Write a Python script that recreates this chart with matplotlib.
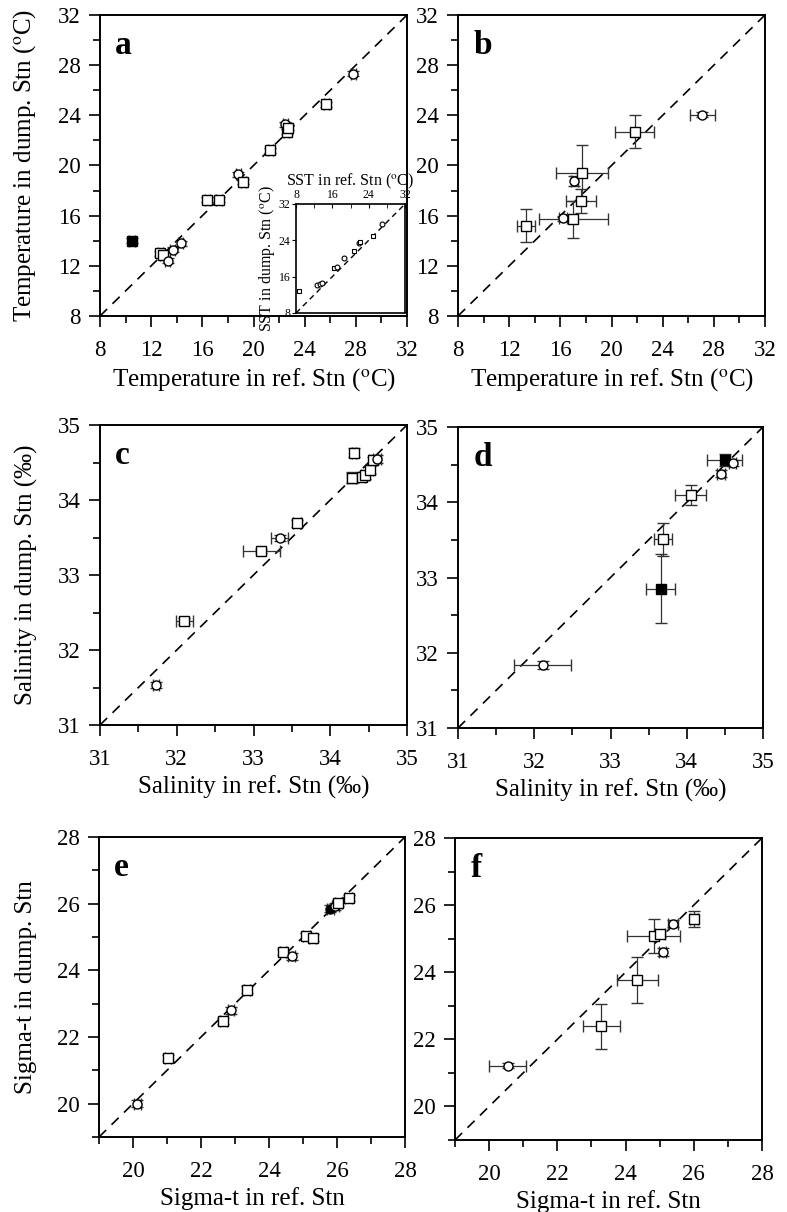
import matplotlib
matplotlib.use('Agg')
import matplotlib.pyplot as plt
from matplotlib.ticker import MultipleLocator, FuncFormatter
import numpy as np

plt.rcParams['font.family'] = ['Liberation Serif', 'DejaVu Serif']
plt.rcParams['mathtext.fontset'] = 'stix'

# ---------------- data ----------------
# Panel a: temperature
a_x = [10.5, 12.7, 12.9, 13.3, 13.7, 14.3, 16.4, 17.3, 18.8, 19.2, 21.3, 22.5, 22.6, 22.7, 25.7, 27.8]
a_y = [14.0, 13.0, 12.9, 12.4, 13.3, 13.8, 17.25, 17.25, 19.3, 18.7, 21.2, 23.3, 22.7, 23.0, 24.9, 27.3]
a_xerr = [0.2] * 16
a_yerr = [0.2] * 16
a_mk = ['s', 's', 's', 'o', 'o', 'o', 's', 's', 'o', 's', 's', 'o', 's', 's', 's', 'o']
a_fill = [True] + [False] * 15

# Inset of panel a: SST
i_x = [8.6, 12.7, 13.2, 13.7, 16.4, 17.0, 18.5, 20.7, 21.8, 22.2, 24.9, 27.0]
i_y = [12.9, 14.2, 14.4, 14.6, 17.9, 18.2, 20.2, 21.7, 23.4, 23.7, 25.0, 27.5]
i_mk = ['s', 'o', 'o', 'o', 's', 'o', 'o', 's', 'o', 's', 's', 'o']

# Panel b: temperature
b_x = [13.3, 16.2, 17.0, 17.6, 17.1, 17.7, 21.8, 27.1]
b_y = [15.2, 15.8, 15.7, 17.2, 18.8, 19.4, 22.7, 24.05]
b_xerr = [0.7, 0.3, 2.7, 1.15, 0.3, 2.05, 1.5, 1.0]
b_yerr = [1.3, 0.2, 1.5, 0.95, 0.4, 2.2, 1.3, 0.2]
b_mk = ['s', 'o', 's', 's', 'o', 's', 's', 'o']
b_fill = [False] * 8

# Panel c: salinity
c_x = [31.73, 32.10, 33.10, 33.34, 33.57, 34.28, 34.31, 34.41, 34.45, 34.52, 34.56, 34.61]
c_y = [31.53, 32.39, 33.32, 33.50, 33.69, 34.30, 34.63, 34.31, 34.33, 34.40, 34.53, 34.55]
c_xerr = [0.04, 0.11, 0.24, 0.11, 0.05, 0.06, 0.03, 0.04, 0.05, 0.04, 0.05, 0.05]
c_yerr = [0.04, 0.04, 0.03, 0.04, 0.05, 0.07, 0.06, 0.04, 0.05, 0.05, 0.05, 0.05]
c_mk = ['o', 's', 's', 'o', 's', 's', 's', 's', 's', 's', 's', 'o']
c_fill = [False] * 12

# Panel d: salinity
d_x = [32.11, 33.66, 33.69, 34.05, 34.45, 34.50, 34.60]
d_y = [31.84, 32.85, 33.51, 34.10, 34.38, 34.56, 34.52]
d_xerr = [0.37, 0.19, 0.12, 0.20, 0.05, 0.23, 0.05]
d_yerr = [0.05, 0.46, 0.22, 0.13, 0.05, 0.08, 0.04]
d_mk = ['o', 's', 's', 's', 'o', 's', 'o']
d_fill = [False, True, False, False, False, True, False]

# Panel e: sigma-t
e_x = [20.13, 21.03, 22.65, 22.88, 23.35, 24.41, 24.67, 25.10, 25.29, 25.80, 25.95, 26.04, 26.34]
e_y = [20.00, 21.37, 22.48, 22.80, 23.42, 24.55, 24.42, 25.02, 24.98, 25.85, 25.92, 26.02, 26.17]
e_xerr = [0.1] * 13
e_yerr = [0.1] * 13
e_mk = ['o', 's', 's', 'o', 's', 's', 'o', 's', 's', 'o', 'o', 's', 's']
e_fill = [False] * 9 + [True] + [False] * 3

# Panel f: sigma-t
f_x = [20.54, 23.29, 24.35, 24.82, 25.02, 25.09, 25.40, 26.00]
f_y = [21.22, 22.39, 23.77, 25.08, 25.14, 24.60, 25.45, 25.58]
f_xerr = [0.54, 0.54, 0.61, 0.77, 0.15, 0.10, 0.15, 0.12]
f_yerr = [0.08, 0.67, 0.68, 0.50, 0.10, 0.12, 0.10, 0.23]
f_mk = ['o', 's', 's', 's', 's', 'o', 'o', 's']
f_fill = [False] * 8

# ---------------- figure ----------------
W, H = 787, 1212
fig = plt.figure(figsize=(W / 100, H / 100), dpi=100)


def px_axes(left, top, right, bottom):
    return fig.add_axes([left / W, 1 - bottom / H, (right - left) / W, (bottom - top) / H])


deg = r'($^{\rm o}$C)'
TICK_FS = 16.5
LAB_FS = 18


def style(ax, lo, hi, major, minor, letter):
    ax.set_xlim(lo, hi)
    ax.set_ylim(lo, hi)
    fmt = FuncFormatter(lambda v, p: '%g' % v)
    for axis in (ax.xaxis, ax.yaxis):
        axis.set_major_locator(MultipleLocator(major))
        axis.set_minor_locator(MultipleLocator(minor))
        axis.set_major_formatter(fmt)
    ax.tick_params(which='major', direction='out', length=8, width=1.2, labelsize=TICK_FS,
                   pad=6, top=False, right=False)
    ax.tick_params(axis='x', which='major', pad=9)
    ax.tick_params(which='minor', direction='out', length=5, width=1.2, top=False, right=False)
    for s in ax.spines.values():
        s.set_linewidth(1.4)
    ax.plot([lo, hi], [lo, hi], ls=(0, (6, 4.5)), color='black', lw=1.2, zorder=1)
    ax.text(0.05, 0.90, letter, transform=ax.transAxes, fontsize=24, fontweight='bold',
            va='center', ha='left')


def draw_points(ax, x, y, xe, ye, mk, fill, ms=6.5):
    for i in range(len(x)):
        ax.errorbar(x[i], y[i], xerr=xe[i], yerr=ye[i], fmt=mk[i], ms=ms,
                    mfc='black' if fill[i] else 'white', mec='black', mew=1.0,
                    ecolor='#333333', elinewidth=0.9, capsize=4, capthick=0.9, zorder=3)


XPAD = 4
YPAD = 14

# Panel a
ax = px_axes(100, 15, 407, 316)
style(ax, 8, 32, 4, 2, 'a')
draw_points(ax, a_x, a_y, a_xerr, a_yerr, a_mk, a_fill)
ax.set_xlabel('Temperature in ref. Stn ' + deg, fontsize=LAB_FS, labelpad=XPAD)
ax.set_ylabel('Temperature in dump. Stn ' + deg, fontsize=LAB_FS, labelpad=YPAD)

# inset
ai = px_axes(296, 204, 405, 313)
ai.set_xlim(8, 32)
ai.set_ylim(8, 32)
ai.xaxis.set_major_locator(MultipleLocator(8))
ai.xaxis.set_minor_locator(MultipleLocator(4))
ai.yaxis.set_major_locator(MultipleLocator(8))
ai.xaxis.tick_top()
ai.xaxis.set_label_position('top')
ai.tick_params(axis='x', which='both', direction='in', length=3, labelsize=8.5, pad=2,
               top=True, bottom=False)
ai.tick_params(axis='y', direction='out', length=3, labelsize=8.5, pad=1)
ai.set_xlabel('SST in ref. Stn ' + deg, fontsize=11.5, labelpad=3)
ai.set_ylabel('SST in dump. Stn ' + deg, fontsize=11.5, labelpad=1)
ai.plot([8, 32], [8, 32], ls=(0, (4, 3)), color='black', lw=1.0, zorder=1)
for i in range(len(i_x)):
    ai.plot(i_x[i], i_y[i], i_mk[i], ms=3.5, mfc='white', mec='black', mew=0.8, zorder=3)
for s in ai.spines.values():
    s.set_linewidth(1.2)

# Panel b
ax = px_axes(458, 15, 765, 316)
style(ax, 8, 32, 4, 2, 'b')
draw_points(ax, b_x, b_y, b_xerr, b_yerr, b_mk, b_fill)
ax.set_xlabel('Temperature in ref. Stn ' + deg, fontsize=LAB_FS, labelpad=XPAD)

# Panel c
ax = px_axes(100, 425, 407, 725)
style(ax, 31, 35, 1, 0.5, 'c')
draw_points(ax, c_x, c_y, c_xerr, c_yerr, c_mk, c_fill)
ax.set_xlabel('Salinity in ref. Stn (‰)', fontsize=LAB_FS, labelpad=XPAD)
ax.set_ylabel('Salinity in dump. Stn (‰)', fontsize=LAB_FS, labelpad=YPAD)

# Panel d
ax = px_axes(458, 427, 763, 728)
style(ax, 31, 35, 1, 0.5, 'd')
draw_points(ax, d_x, d_y, d_xerr, d_yerr, d_mk, d_fill)
ax.set_xlabel('Salinity in ref. Stn (‰)', fontsize=LAB_FS, labelpad=XPAD)

# Panel e
ax = px_axes(99, 837, 405, 1137)
style(ax, 19, 28, 2, 1, 'e')
draw_points(ax, e_x, e_y, e_xerr, e_yerr, e_mk, e_fill)
ax.set_xlabel('Sigma-t in ref. Stn', fontsize=LAB_FS, labelpad=XPAD)
ax.set_ylabel('Sigma-t in dump. Stn', fontsize=LAB_FS, labelpad=YPAD)

# Panel f
ax = px_axes(455, 838, 762, 1140)
style(ax, 19, 28, 2, 1, 'f')
draw_points(ax, f_x, f_y, f_xerr, f_yerr, f_mk, f_fill)
ax.set_xlabel('Sigma-t in ref. Stn', fontsize=LAB_FS, labelpad=XPAD)

fig.savefig('out.png', dpi=100)
